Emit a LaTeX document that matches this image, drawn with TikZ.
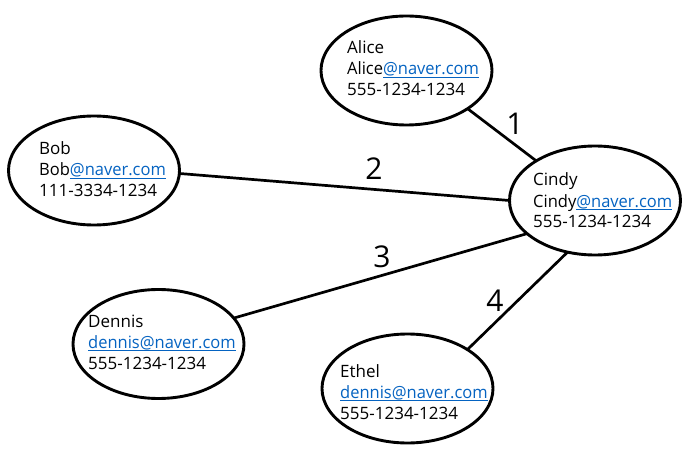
\documentclass[tikz,border=0pt]{standalone}
\usepackage{fontspec}
\setmainfont{Open Sans}
\usetikzlibrary{shapes.geometric}
\definecolor{linkblue}{HTML}{0563C1}
\newcommand\lnk[1]{{\color{linkblue}\setbox0\hbox{#1}\rlap{\rule[-2.6pt]{\wd0}{1pt}}\box0}}
\newcommand\mail[1]{{\addfontfeature{FakeStretch=0.97}#1}}
\newcommand\info[3]{\vtop{\hbox{#1}\hbox{\mail{#2}}\hbox{#3}}}
\begin{document}
\begin{tikzpicture}[x=1pt,y=-1pt,
  person/.style={ellipse, draw, line width=2.9pt, minimum width=171pt, minimum height=109pt, inner sep=0pt, outer sep=0pt},
  txt/.style={anchor=base west, inner sep=0pt, font=\fontsize{17}{21}\selectfont},
  num/.style={anchor=base, inner sep=0pt, font=\fontsize{30}{36}\selectfont},
  link/.style={line width=2.7pt}]
\useasboundingbox (0,0) rectangle (690,454);
\node[person] (alice) at (406.5,70.5) {};
\node[person] (cindy) at (595,200.5) {};
\node[person] (bob) at (94,170.5) {};
\node[person] (dennis) at (158.5,344) {};
\node[person] (ethel) at (407.5,388.5) {};
\node[txt] (alicetxt) at (347,54) {\info{Alice}{Alice\lnk{@naver.com}}{555-1234-1234}};
\node[txt] (cindytxt) at (533,186) {\info{Cindy}{Cindy\lnk{@naver.com}}{555-1234-1234}};
\node[txt] (bobtxt) at (39,155) {\info{Bob}{Bob\lnk{@naver.com}}{111-3334-1234}};
\node[txt] (dennistxt) at (88,327) {\info{Dennis}{\lnk{dennis@naver.com}}{555-1234-1234}};
\node[txt] (etheltxt) at (340,377) {\info{Ethel}{\lnk{dennis@naver.com}}{555-1234-1234}};
\draw[link] (alice.-32) -- (cindy.146);
\draw[link] (bob.-2) -- (cindy.180);
\draw[link] (dennis.19) -- (cindy.206);
\draw[link] (ethel.33) -- (cindy.242);
\node[num] (n1) at (515,135) {1};
\node[num] (n2) at (374,180) {2};
\node[num] (n3) at (382,267) {3};
\node[num] (n4) at (495,311) {4};
\end{tikzpicture}
\end{document}
